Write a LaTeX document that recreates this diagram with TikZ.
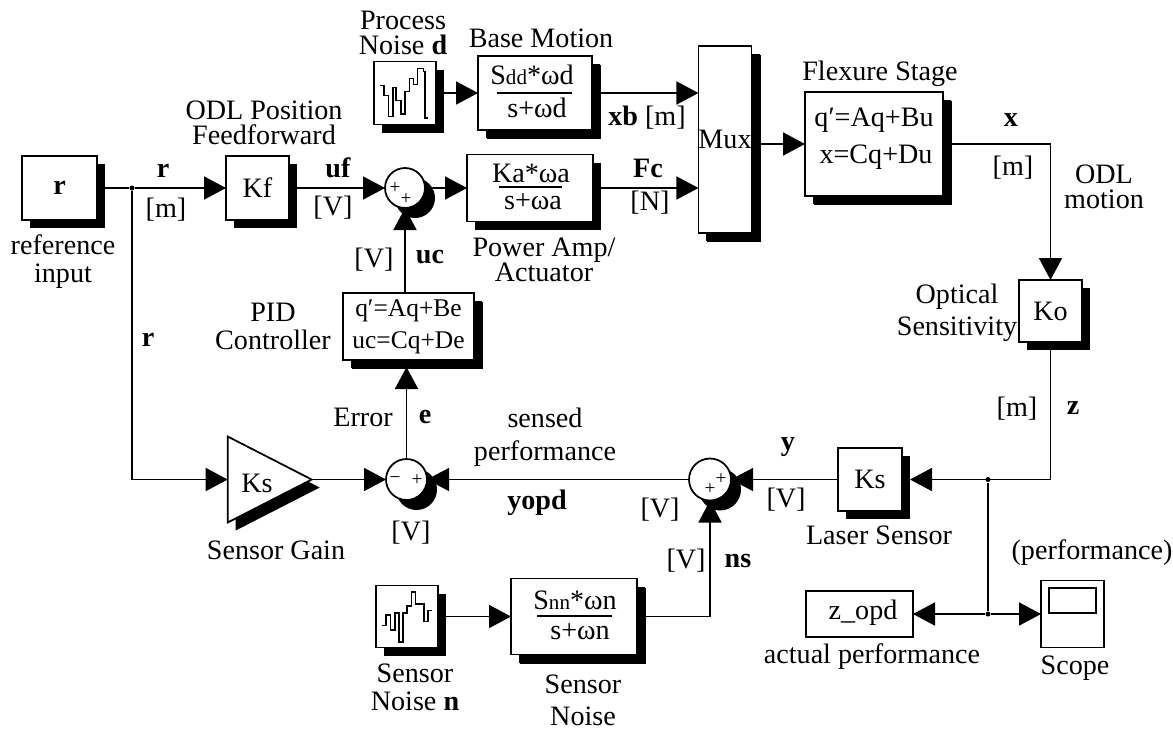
\documentclass[tikz,border=0pt]{standalone}
\usepackage{fontspec}
\setmainfont{Liberation Serif}
\usetikzlibrary{arrows.meta,shapes.geometric,shadows}
\tikzset{
    dropblk/.style={drop shadow={shadow xshift=#1,shadow yshift=-#1,opacity=1,fill=black}},
    dropblk/.default=.08cm,
    blockbox/.style={draw,fill=white,inner sep=0,outer sep=0,dropblk},
    plainbox/.style={draw,fill=white,inner sep=0,outer sep=0},
    sumcirc/.style={draw,circle,fill=white,inner sep=0,outer sep=0,dropblk=.10cm},
    signtxt/.style={inner sep=0,font=\fontsize{5.5}{5.5}\selectfont},
    txt/.style={inner sep=0,align=center},
    smalleq/.style={inner sep=0,align=center,font=\fontsize{7.25}{8}\selectfont},
    dotjunc/.style={circle,fill=black,inner sep=0,minimum size=.05cm},
    conn/.style={-{Triangle[length=.22cm,width=.23cm]}}
}
\begin{document}
\begin{tikzpicture}[line width=.5pt,font=\fontsize{8}{8}\selectfont]
        \useasboundingbox (0,0) rectangle (11.73,-7.30);
        % blocks, top row first
        \node[blockbox,minimum width=.75cm,minimum height=.64cm] (rin) at (0.595,-1.88) {\textbf{r}};
        \node[blockbox,minimum width=.63cm,minimum height=.64cm] (kf) at (2.575,-1.88) {Kf};
        \node[blockbox,minimum width=.62cm,minimum height=.63cm] (gend) at (4.05,-0.93) {};
        \node[blockbox,dropblk=.09cm,minimum width=1.14cm,minimum height=.74cm] (base) at (5.35,-0.93) {};
        \node[blockbox,minimum width=1.26cm,minimum height=.67cm] (power) at (5.30,-1.88) {};
        \node[blockbox,dropblk=.09cm,minimum width=.52cm,minimum height=1.87cm] (mux) at (7.25,-1.395) {Mux};
        \node[blockbox,dropblk=.09cm,minimum width=1.38cm,minimum height=1.04cm] (flex) at (8.74,-1.44) {};
        \node[blockbox,minimum width=.63cm,minimum height=.62cm] (ko) at (10.505,-3.11) {Ko};
        \node[blockbox,minimum width=.64cm,minimum height=.63cm] (lasers) at (8.70,-4.795) {Ks};
        \node[blockbox,dropblk=.09cm,minimum width=1.31cm,minimum height=.67cm,smalleq] (pid) at (4.085,-3.265) {q′=Aq+Be\\[1pt]uc=Cq+De};
        \node[blockbox,minimum width=.62cm,minimum height=.62cm] (genn) at (4.07,-6.165) {};
        \node[blockbox,dropblk=.09cm,minimum width=1.26cm,minimum height=.76cm] (snn) at (5.74,-6.165) {};
        \node[plainbox,minimum width=1.07cm,minimum height=.46cm] (zopd) at (8.595,-6.14) {};
        \node[plainbox,minimum width=.63cm,minimum height=.67cm] (scope) at (10.725,-6.14) {};
        \node[draw,fill=white,isosceles triangle,isosceles triangle stretches,minimum width=.86cm,minimum height=.84cm,inner sep=0,outer sep=0,dropblk] (gain) at (2.54,-4.795) {};
        \node[inner sep=0] (gaintxt) at (2.57,-4.83) {Ks};
        % summing points
        \node[sumcirc,minimum size=.40cm] (sumu) at (4.05,-1.88) {};
        \node[sumcirc,minimum size=.41cm] (sume) at (4.065,-4.795) {};
        \node[sumcirc,minimum size=.42cm] (sumy) at (7.10,-4.795) {};
        \node[signtxt] (sgna) at (3.95,-1.88) {+};
        \node[signtxt] (sgnb) at (4.06,-1.99) {+};
        \node[signtxt] (sgnc) at (3.95,-4.80) {−};
        \node[signtxt] (sgnd) at (4.17,-4.80) {+};
        \node[signtxt] (sgne) at (7.21,-4.79) {+};
        \node[signtxt] (sgnf) at (7.10,-4.89) {+};
        % junctions
        \node[dotjunc] (jr) at (1.32,-1.88) {};
        \node[dotjunc] (jz) at (9.88,-4.795) {};
        \node[dotjunc] (jo) at (9.88,-6.14) {};
        % connectors
        \draw (rin.east) -- (jr);
        \draw[conn] (jr) -- (kf.west);
        \draw[conn] (jr) |- (gain.west);
        \draw[conn] (kf.east) -- (sumu.west);
        \draw[conn] (sumu.east) -- (power.west);
        \draw[conn] (gend.east) -- (base.west);
        \draw[conn] (base.east) -- (base.east -| mux.west);
        \draw[conn] (power.east) -- (power.east -| mux.west);
        \draw[conn] (flex.west -| mux.east) -- (flex.west);
        \draw[conn] (flex.east) -| (ko.north);
        \draw[conn,shorten >=.08cm] (ko.south) |- (lasers.east);
        \draw[conn] (lasers.west) -- (sumy.east);
        \draw[conn] (sumy.west) -- (sume.east);
        \draw[conn] (gain.apex) -- (sume.west);
        \draw[conn,shorten >=.07cm] (sume.north) -- (sume.north |- pid.south);
        \draw[conn] (sumu.south |- pid.north) -- (sumu.south);
        \draw[conn] (genn.east) -- (snn.west);
        \draw[conn] (snn.east) -| (sumy.south);
        \draw (jz) -- (jo);
        \draw[conn] (jo) -- (zopd.east);
        \draw[conn] (jo) -- (scope.west);
        % transfer functions
        \node[txt] (sddtxt) at (5.32,-0.75) {S{\fontsize{6}{6}\selectfont dd}*ωd};
        \draw (4.97,-0.93) -- (5.72,-0.93);
        \node[txt] (sdtxt) at (5.37,-1.08) {s+ωd};
        \node[txt] (katxt) at (5.31,-1.73) {Ka*ωa};
        \draw (4.99,-1.87) -- (5.62,-1.87);
        \node[txt] (satxt) at (5.33,-2.02) {s+ωa};
        \node[txt] (snntxt) at (5.75,-6.00) {S{\fontsize{6}{6}\selectfont nn}*ωn};
        \draw (5.37,-6.16) -- (6.12,-6.16);
        \node[txt] (sntxt) at (5.80,-6.32) {s+ωn};
        \node[txt] (flexa) at (8.74,-1.20) {q′=Aq+Bu};
        \node[txt] (flexb) at (8.76,-1.57) {x=Cq+Du};
        \node[txt] (zopdtxt) at (8.63,-6.13) {z\_opd};
        % scope screen and noise traces
        \draw (10.49,-5.88) rectangle (10.96,-6.13);
        \draw[line width=.45pt] (3.80,-0.853) -- (3.84,-0.853) -- (3.84,-0.953) -- (3.883,-0.953) -- (3.883,-1.167) -- (3.927,-1.167) -- (3.927,-0.873) -- (3.96,-0.873) -- (3.96,-1.007) -- (4.01,-1.007) -- (4.01,-1.14) -- (4.05,-1.14) -- (4.05,-0.913) -- (4.093,-0.913) -- (4.093,-0.787) -- (4.133,-0.787) -- (4.133,-0.847) -- (4.173,-0.847) -- (4.173,-0.687) -- (4.233,-0.687) -- (4.233,-0.713) -- (4.25,-0.713) -- (4.25,-1.18) -- (4.28,-1.18);
        \draw[line width=.45pt] (3.82,-6.253) -- (3.86,-6.253) -- (3.86,-6.147) -- (3.903,-6.147) -- (3.903,-6.297) -- (3.947,-6.297) -- (3.947,-6.127) -- (3.987,-6.127) -- (3.987,-6.42) -- (4.03,-6.42) -- (4.03,-6.127) -- (4.07,-6.127) -- (4.07,-6.06) -- (4.113,-6.06) -- (4.113,-5.92) -- (4.153,-5.92) -- (4.153,-6.04) -- (4.237,-6.04) -- (4.237,-6.213) -- (4.277,-6.213) -- (4.277,-6.103) -- (4.32,-6.103);
        % labels
        \node[txt] (lblproc) at (4.03,-0.33) {Process\\[-1pt]Noise \textbf{d}};
        \node[txt] (lblbase) at (5.41,-0.38) {Base Motion};
        \node[txt] (lblxb) at (6.47,-1.18) {\textbf{xb} [m]};
        \node[txt] (lblfc) at (6.48,-1.68) {\textbf{Fc}};
        \node[txt] (lbln) at (6.50,-2.03) {[N]};
        \node[txt] (lblodl) at (2.64,-1.23) {ODL Position\\[-1pt]Feedforward};
        \node[txt] (lblra) at (1.63,-1.71) {\textbf{r}};
        \node[txt] (lblma) at (1.66,-2.10) {[m]};
        \node[txt] (lblref) at (0.63,-2.62) {reference\\input};
        \node[txt] (lbluf) at (3.38,-1.68) {\textbf{uf}};
        \node[txt] (lblva) at (3.33,-2.08) {[V]};
        \node[txt] (lblpow) at (5.44,-2.60) {Power Amp/\\[-1pt]Actuator};
        \node[txt] (lblflex) at (8.80,-0.74) {Flexure Stage};
        \node[txt] (lblx) at (10.11,-1.20) {\textbf{x}};
        \node[txt] (lblmb) at (10.13,-1.68) {[m]};
        \node[txt] (lblmot) at (11.04,-1.87) {ODL\\[-1pt]motion};
        \node[txt] (lblopt) at (9.57,-3.13) {Optical\\[1pt]Sensitivity};
        \node[txt] (lblvb) at (3.74,-2.60) {[V]};
        \node[txt] (lbluc) at (4.30,-2.57) {\textbf{uc}};
        \node[txt] (lblpid) at (2.73,-3.26) {PID\\Controller};
        \node[txt] (lblrb) at (1.48,-3.40) {\textbf{r}};
        \node[txt] (lblerr) at (3.63,-4.17) {Error};
        \node[txt] (lble) at (4.25,-4.17) {\textbf{e}};
        \node[txt] (lblmc) at (10.17,-4.09) {[m]};
        \node[txt] (lblz) at (10.73,-4.08) {\textbf{z}};
        \node[txt] (lblsens) at (5.45,-4.37) {sensed\\[1.4pt]performance};
        \node[txt] (lblyopd) at (5.37,-5.03) {\textbf{yopd}};
        \node[txt] (lbly) at (7.88,-4.47) {\textbf{y}};
        \node[txt] (lblvc) at (7.86,-5.00) {[V]};
        \node[txt] (lblvd) at (6.60,-5.10) {[V]};
        \node[txt] (lblve) at (6.86,-5.61) {[V]};
        \node[txt] (lblns) at (7.38,-5.61) {\textbf{ns}};
        \node[txt] (lblvf) at (4.11,-5.33) {[V]};
        \node[txt] (lblgain) at (2.76,-5.50) {Sensor Gain};
        \node[txt] (lbllas) at (8.79,-5.35) {Laser Sensor};
        \node[txt] (lblperf) at (10.92,-5.53) {(performance)};
        \node[txt] (lblact) at (8.72,-6.57) {actual performance};
        \node[txt] (lblsc) at (10.75,-6.68) {Scope};
        \node[txt] (lblsna) at (4.15,-6.87) {Sensor\\Noise \textbf{n}};
        \node[txt] (lblsnb) at (5.83,-7.00) {Sensor\\[1pt]Noise};
    \end{tikzpicture}
\end{document}
